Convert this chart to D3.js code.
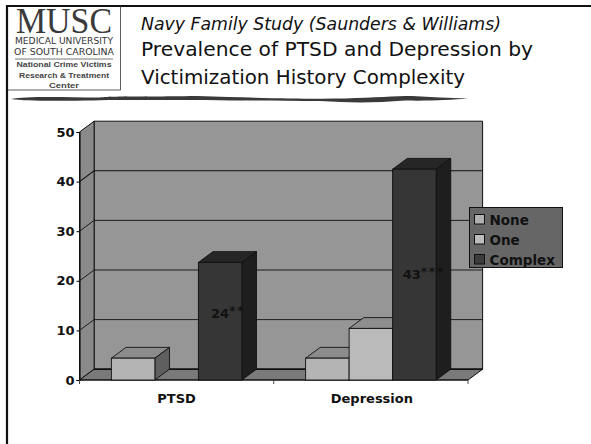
<!DOCTYPE html>
<html>
<head>
<meta charset="utf-8">
<script src="https://cdn.jsdelivr.net/npm/d3@7"></script>
<style>
  html,body{margin:0;padding:0;background:#fff}
  svg{display:block}
  text{font-family:"DejaVu Sans",sans-serif;fill:#111}
  .ax{font-family:"DejaVu Sans",sans-serif;font-weight:bold;font-size:13px}
</style>
</head>
<body>
<svg id="chart" width="591" height="444"></svg>
<script>
const categories = ["PTSD","Depression"];
const seriesNames = ["None","One","Complex"];
const none = [4.4,4.4];
const one = [0,10.4];
const complex = [23.7,42.5];
const yTicks = [0,10,20,30,40,50];
const barLabels = [{cat:"PTSD",value:"24",stars:"**"},{cat:"Depression",value:"43",stars:"***"}];
const seriesColor = {None:"#b4b4b4",One:"#bababa",Complex:"#363636"};
const seriesTop = {None:"#8c8c8c",One:"#8e8e8e",Complex:"#262626"};
const seriesSide = {None:"#5f5f5f",One:"#666",Complex:"#1e1e1e"};
const legendSwatch = {None:"#b0b0b0",One:"#bcbcbc",Complex:"#3c3c3c"};

const svg = d3.select("#chart");

// slide frame
svg.append("line").attr("x1",6).attr("x2",591).attr("y1",6).attr("y2",6).attr("stroke","#111").attr("stroke-width",2.2);
svg.append("line").attr("x1",7).attr("x2",7).attr("y1",5).attr("y2",444).attr("stroke","#111").attr("stroke-width",2.2);

// logo
const logo = svg.append("g");
logo.append("polyline").attr("points","8,90 120.5,90 120.5,6").attr("fill","none").attr("stroke","#333").attr("stroke-width",.8);
logo.append("text").attr("x",64).attr("y",33).attr("text-anchor","middle").style("font-family","Liberation Serif").style("font-size","35px").attr("textLength",96).attr("lengthAdjust","spacingAndGlyphs").style("fill","#3a3a3a").text("MUSC");
logo.append("text").attr("x",64).attr("y",44).attr("text-anchor","middle").style("font-size","9px").attr("textLength",98).attr("lengthAdjust","spacingAndGlyphs").style("fill","#333").text("MEDICAL UNIVERSITY");
logo.append("text").attr("x",64).attr("y",54.5).attr("text-anchor","middle").style("font-size","9px").attr("textLength",100).attr("lengthAdjust","spacingAndGlyphs").style("fill","#333").text("OF SOUTH CAROLINA");
logo.append("line").attr("x1",15).attr("x2",113).attr("y1",59).attr("y2",59).attr("stroke","#555").attr("stroke-width",.8);
[["National Crime Victims",95],["Research & Treatment",90],["Center",30]].forEach((t,i)=>{
  logo.append("text").attr("x",64).attr("y",67+i*10.5).attr("text-anchor","middle")
    .style("font-family","Liberation Sans").style("font-size","8px").style("font-weight","bold")
    .attr("textLength",t[1]).attr("lengthAdjust","spacingAndGlyphs").style("fill","#444").text(t[0]);
});

// swoosh under the heading
svg.append("path")
  .attr("d","M11,99 C25,96 60,97 100,97.5 C112,96 125,97 197,96 C260,98 300,99 345,98.5 C375,97.5 395,96 412,96 C430,97 450,98 468,98.5 C450,100 430,101 405,100.5 C375,103 350,103 320,101 C260,101 200,99.5 115,100 C80,100.5 30,102 11,99 Z")
  .attr("fill","#3a3a3a");

// heading
svg.append("text").attr("x",141).attr("y",30).style("font-style","italic").style("font-size","17.5px").attr("textLength",360).attr("lengthAdjust","spacingAndGlyphs").text("Navy Family Study (Saunders & Williams)");
svg.append("text").attr("x",141).attr("y",55.5).style("font-size","20px").attr("textLength",392).attr("lengthAdjust","spacingAndGlyphs").text("Prevalence of PTSD and Depression by");
svg.append("text").attr("x",141).attr("y",83.5).style("font-size","20px").attr("textLength",324).attr("lengthAdjust","spacingAndGlyphs").text("Victimization History Complexity");

// chart
const depthX = 14.6, depthY = -10.8;
const x = d3.scaleBand().domain(categories).range([79.5,468]);
const y = d3.scaleLinear().domain([0,50]).range([380,132]);
const inner = d3.scaleBand().domain(seriesNames).range([0,130.5]);
const barStart = (x.bandwidth()-inner.range()[1])/2;
const x0 = x.range()[0], x1 = x.range()[1];
const pts = a => a.map(p=>p.join(",")).join(" ");

// walls
svg.append("polygon").attr("points",pts([[x0+depthX,y(50)+depthY],[x1+depthX,y(50)+depthY],[x1+depthX,y(0)+depthY],[x0+depthX,y(0)+depthY]])).attr("fill","#969696").attr("stroke","#111");
svg.append("polygon").attr("points",pts([[x0,y(50)],[x0+depthX,y(50)+depthY],[x0+depthX,y(0)+depthY],[x0,y(0)]])).attr("fill","#8a8a8a").attr("stroke","#111");
svg.append("polygon").attr("points",pts([[x0,y(0)],[x0+depthX,y(0)+depthY],[x1+depthX,y(0)+depthY],[x1,y(0)]])).attr("fill","#7a7a7a").attr("stroke","#111");

// gridlines
yTicks.filter(d=>d>0&&d<50).forEach(d=>{
  svg.append("polyline").attr("points",pts([[x0,y(d)],[x0+depthX,y(d)+depthY],[x1+depthX,y(d)+depthY]]))
    .attr("fill","none").attr("stroke","#111").attr("stroke-width",d==40?1.1:.9);
});
svg.append("line").attr("x1",x0+depthX).attr("x2",x1+depthX).attr("y1",y(0)+depthY).attr("y2",y(0)+depthY).attr("stroke","#111").attr("stroke-width",1.6);

// axes
const yAxis = svg.append("g").attr("transform",`translate(${x0},0)`).call(d3.axisLeft(y).tickValues(yTicks).tickSize(3).tickPadding(2));
yAxis.select(".domain").attr("stroke","#111").attr("stroke-width",1.2);
yAxis.selectAll("text").attr("class","ax");
const xAxis = svg.append("g").attr("transform",`translate(0,${y(0)})`);
xAxis.append("line").attr("x1",x0).attr("x2",x1).attr("stroke","#111").attr("stroke-width",1.2);
[x0,x("Depression"),x1].forEach(t=>{
  xAxis.append("line").attr("x1",t).attr("x2",t).attr("y1",0).attr("y2",4).attr("stroke","#444");
});
categories.forEach(c=>{
  xAxis.append("text").attr("class","ax").attr("x",x(c)+x.bandwidth()/2+(c=="PTSD"?0:1)).attr("y",22.5).attr("text-anchor","middle").text(c);
});

// bars, left to right so each one covers the side of the one before
const values = {None:none,One:one,Complex:complex};
categories.forEach((c,ci)=>{
  seriesNames.forEach(s=>{
    const v = values[s][ci];
    if(!v) return;
    const l = x(c)+barStart+inner(s), r = l+inner.bandwidth(), t = y(v), b = y(0);
    const g = svg.append("g").attr("stroke","#111").attr("stroke-width",.9);
    g.append("polygon").attr("points",pts([[l,t],[l+depthX,t+depthY],[r+depthX,t+depthY],[r,t]])).attr("fill",seriesTop[s]);
    g.append("polygon").attr("points",pts([[r,t],[r+depthX,t+depthY],[r+depthX,b+depthY],[r,b]])).attr("fill",seriesSide[s]);
    g.append("rect").attr("x",l).attr("y",t).attr("width",r-l).attr("height",b-t).attr("fill",seriesColor[s]);
  });
});

// value labels with significance stars
barLabels.forEach((d,i)=>{
  const l = x(d.cat)+barStart+inner("Complex");
  const t = svg.append("text").attr("class","ax").attr("x",l+(i==0?12.5:10)).attr("y",i==0?318:279);
  t.append("tspan").text(d.value);
  t.append("tspan").attr("dy",-3).style("font-weight","normal").style("font-size","13px").style("fill","#0c0c0c").attr("letter-spacing",1.5).text(d.stars);
});

// legend
const legend = svg.append("g").attr("transform","translate(469.5,207.5)");
legend.append("rect").attr("width",93).attr("height",60).attr("fill","#666").attr("stroke","#111");
seriesNames.forEach((s,i)=>{
  const row = legend.append("g").attr("transform",`translate(5,${7+i*20})`);
  row.append("rect").attr("width",10).attr("height",9.5).attr("fill",legendSwatch[s]).attr("stroke","#111");
  row.append("text").attr("class","ax").attr("x",15).attr("y",10).style("font-size","13.5px").text(s);
});
</script>
</body>
</html>
